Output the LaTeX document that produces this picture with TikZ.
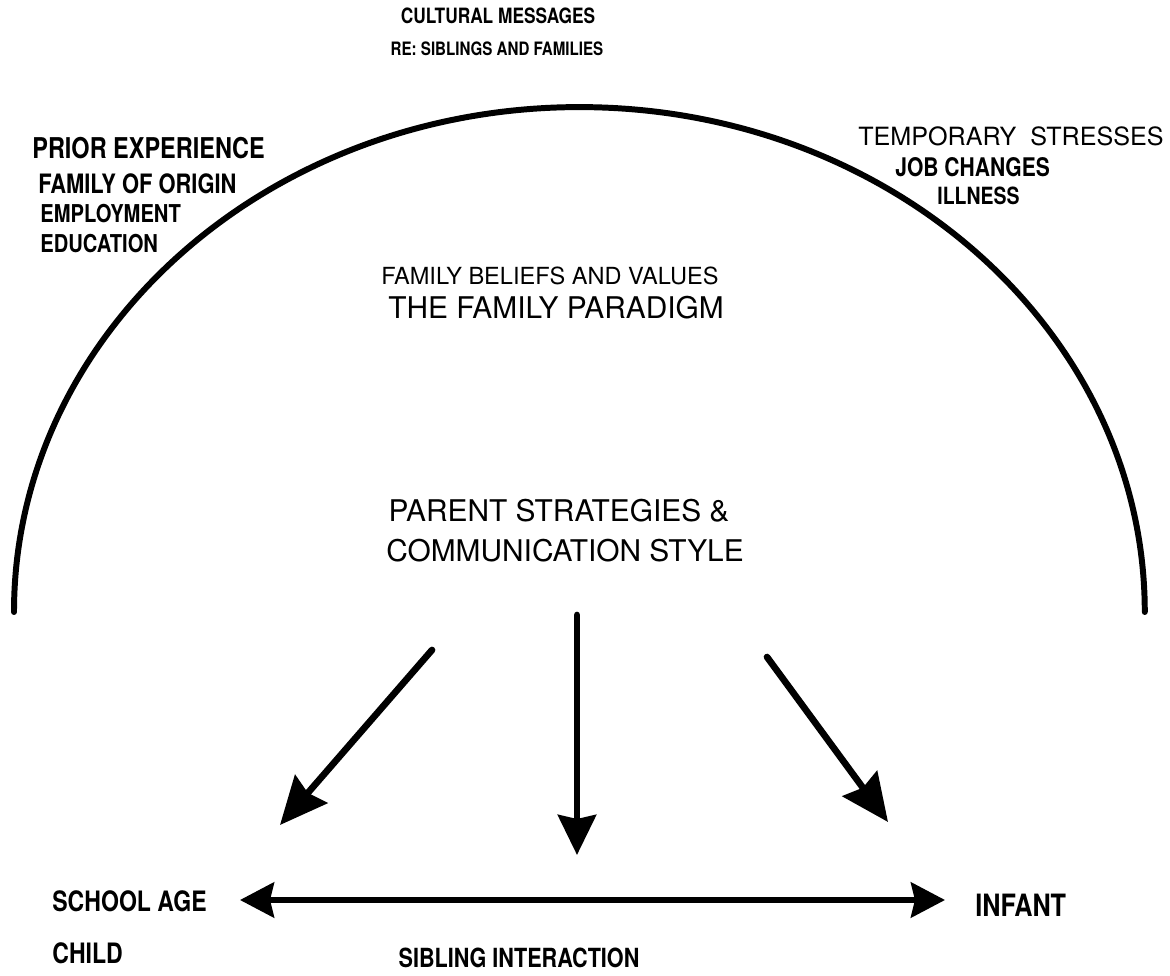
\documentclass[tikz,border=0pt]{standalone}
\usepackage{fontspec}
\setmainfont{TeX Gyre Heros}
\newfontfamily\condfont[FakeStretch=0.82]{TeX Gyre Heros}
\usetikzlibrary{arrows.meta}

\tikzset{
    lbl/.style={inner sep=0pt, anchor=base},
    lblw/.style={inner sep=0pt, anchor=base west},
    small/.style={font=\condfont\bfseries\fontsize{#1}{#1}\selectfont},
    bigarrow/.style={line width=3.8pt, -{Stealth[length=0.95cm, width=0.85cm, inset=0.1cm]}},
}

\begin{document}
\begin{tikzpicture}[x=0.02cm, y=0.02cm]
    \useasboundingbox (0,0) rectangle (1170,-976);

    % Arch
    \draw[line width=3.4pt, line cap=round] (14,-612) arc[start angle=180, end angle=0, x radius=11.31cm, y radius=10.1cm];

    % Outside the arch
    \node[lbl, small=12] (cult) at (498,-24) {CULTURAL MESSAGES};
    \node[lbl, small=10.5] (re) at (497,-56) {RE: SIBLINGS AND FAMILIES};

    \node[lblw, small=16.3] (prior) at (32,-159) {PRIOR EXPERIENCE};
    \node[lblw, small=15.2] (origin) at (38,-194) {FAMILY OF ORIGIN};
    \node[lblw, small=14] (employ) at (40,-223) {EMPLOYMENT};
    \node[lblw, small=14] (educ) at (40,-253) {EDUCATION};

    \node[lblw, font=\fontsize{14.3}{16}\selectfont] (temp) at (858,-146) {TEMPORARY\ \ STRESSES};
    \node[lblw, small=14.6] (job) at (895,-177) {JOB CHANGES};
    \node[lblw, small=13.5] (ill) at (937,-205) {ILLNESS};

    % Inside the arch
    \node[lbl, font=\fontsize{13.4}{15}\selectfont] (beliefs) at (550,-285) {FAMILY BELIEFS AND VALUES};
    \node[lbl, font=\fontsize{17}{19}\selectfont] (paradigm) at (556,-319) {THE FAMILY PARADIGM};
    \node[lbl, font=\fontsize{17}{19}\selectfont] (parent) at (559,-521) {PARENT STRATEGIES \&};
    \node[lbl, font=\fontsize{17}{19}\selectfont] (comm) at (565,-561) {COMMUNICATION STYLE};

    % Children
    \node[lblw, small=16] (school) at (52,-911) {SCHOOL AGE};
    \node[lblw, small=16] (child) at (52,-963) {CHILD};
    \node[lblw, small=17.5] (infant) at (975,-916) {INFANT};
    \node[lbl, small=15] (sibling) at (519,-967) {SIBLING INTERACTION};

    % Arrow ends
    \coordinate (aL1) at (432,-650);  \coordinate (aL2) at (280,-825);
    \coordinate (aM1) at (577,-615);  \coordinate (aM2) at (577,-855);
    \coordinate (aR1) at (767,-657);  \coordinate (aR2) at (888,-822);
    \coordinate (sibL) at (240,-900); \coordinate (sibR) at (945,-900);

    \draw[bigarrow, line cap=round] (aL1) -- (aL2); % to school age child
    \draw[bigarrow, line cap=round, -{Stealth[length=0.8cm, width=0.76cm, inset=0.08cm]}] (aM1) -- (aM2); % to interaction
    \draw[bigarrow, line cap=round] (aR1) -- (aR2); % to infant
    \draw[line width=3.4pt, {Stealth[length=0.68cm, width=0.7cm, inset=0.08cm]}-{Stealth[length=0.68cm, width=0.7cm, inset=0.08cm]}] (sibL) -- (sibR); % sibling interaction

\end{tikzpicture}
\end{document}
